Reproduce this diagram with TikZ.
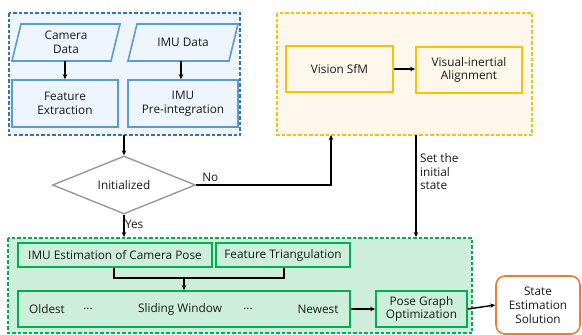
\documentclass[tikz,border=0pt]{standalone}
\usepackage{fontspec}
\setmainfont{Open Sans}
\usetikzlibrary{arrows.meta,shapes.geometric}
\definecolor{bluedk}{HTML}{2E75B6}
\definecolor{bluelt}{HTML}{5B9BD5}
\definecolor{bluefill}{HTML}{EFF5FC}
\definecolor{yel}{HTML}{FFC000}
\definecolor{yelfill}{HTML}{FDF8EB}
\definecolor{grn}{HTML}{00B050}
\definecolor{grnfill}{HTML}{CDEEDA}
\definecolor{org}{HTML}{ED7D31}
\tikzset{
  x=1pt,y=-1pt,
  txt/.style={font=\fontsize{11.8}{13.8}\selectfont,align=center,text=black!90},
  group/.style={draw,dashed,line width=1.1pt,dash pattern=on 3.5pt off 2pt},
  bluebox/.style={draw=bluelt,line width=1.6pt,fill=bluefill,txt},
  yelbox/.style={draw=yel,line width=1.8pt,fill=yelfill,txt},
  grnbox/.style={draw=grn,line width=1.8pt,fill=grnfill,txt},
  conn/.style={line width=1.4pt,-{Stealth[length=5pt,width=4.5pt]}},
  plain/.style={line width=1.4pt},
}
\begin{document}
\begin{tikzpicture}
\useasboundingbox (0,0) rectangle (582,335);
% group frames
\draw[group,draw=bluedk,fill=bluefill] (9,13) rectangle (240,135);
\draw[group,draw=yel,fill=yelfill] (277,13) rectangle (532,135);
\draw[group,draw=grn,fill=grnfill] (8,238) rectangle (472,333);

% sensor inputs (parallelograms)
\draw[bluebox] (21,24) -- (120,24) -- (111,61) -- (12,61) -- cycle;
\node[txt] (cam) at (66,42.5) {Camera\\Data};
\coordinate (camb) at (65,61);
\draw[bluebox] (137,24) -- (238,24) -- (229,61) -- (128,61) -- cycle;
\node[txt] (imu) at (183,42.5) {IMU Data};
\coordinate (imub) at (181,61);

\node[bluebox,minimum width=106pt,minimum height=47pt] (fe) at (65,103.5) {Feature\\Extraction};
\node[bluebox,minimum width=110pt,minimum height=47pt] (pre) at (183,103.5) {IMU\\Pre-integration};
\draw[conn] (camb) -- (fe.north -| camb);
\draw[conn] (imub) -- (pre.north -| imub);

% decision
\coordinate (bluebot) at (124,135);
\node[diamond,draw=gray!80,line width=1.4pt,fill=white,minimum width=143pt,minimum height=58pt,inner sep=0pt,txt,aspect=2.47] (init) at (124,185) {Initialized};
\draw[conn] (bluebot) -- (init.north);

% initialization
\node[yelbox,minimum width=107pt,minimum height=46pt] (sfm) at (339.5,69) {Vision SfM};
\node[yelbox,minimum width=106pt,minimum height=46pt] (via) at (469,70) {Visual-inertial\\Alignment};
\draw[conn] (sfm) -- (via.west |- sfm);
\coordinate (yelbot) at (331,135);
\draw[conn] (init.east) -| node[pos=0.045,above,txt,xshift=2pt,yshift=-1pt] {No} (yelbot);
\coordinate (setop) at (416,135);
\coordinate (setbot) at (416,237);
\draw[conn] (setop) -- node[pos=0.36,right,txt,align=left,xshift=0pt] {Set the\\initial\\state} (setbot);

% estimator
\coordinate (grntop) at (124,237);
\draw[conn] (init.south) -- node[pos=0.45,right,txt,xshift=-3pt] {Yes} (grntop);
\node[grnbox,minimum width=194pt,minimum height=24pt,inner sep=1pt] (est) at (115,255) {IMU Estimation of Camera Pose};
\node[grnbox,minimum width=134pt,minimum height=24pt,inner sep=1pt] (tri) at (283,255) {Feature Triangulation};
\node[grnbox,minimum width=332pt,minimum height=36pt] (sw) at (184,309) {};
\node[txt] (old) at (47,309) {Oldest};
\node[txt] (d1) at (88,309) {...};
\node[txt] (swl) at (180,309) {Sliding Window};
\node[txt] (d2) at (248,309) {...};
\node[txt] (new) at (318,309) {Newest};
\coordinate (join) at (184,278);
\draw[plain] (est.south -| 114,0) |- (join) -| (tri.south -| 284,0);
\draw[conn] (join) -- (sw.north);

\node[grnbox,minimum width=91pt,minimum height=36pt,inner sep=1pt] (pgo) at (421.5,309) {Pose Graph\\Optimization};
\draw[conn] (sw.east) -- (pgo.west);

\node[draw=org,line width=1.6pt,fill=white,rounded corners=9pt,minimum width=84pt,minimum height=58pt,inner sep=1pt,txt] (ses) at (538,305) {State\\Estimation\\Solution};
\draw[conn] (pgo.east) -- (ses.west);
\end{tikzpicture}
\end{document}
